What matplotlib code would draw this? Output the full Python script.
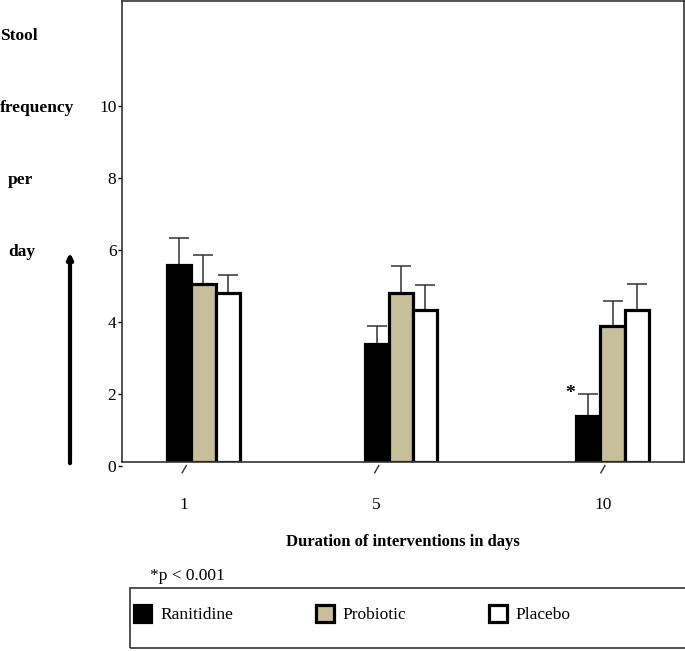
import matplotlib.pyplot as plt
import matplotlib.patches as mpatches
import matplotlib.transforms as mtransforms
import numpy as np

days = ["1", "5", "10"]
groups = ["Ranitidine", "Probiotic", "Placebo"]
ranitidine = [5.47, 3.29, 1.29]
ranitidine_err = [0.75, 0.49, 0.60]
probiotic = [4.94, 4.69, 3.78]
probiotic_err = [0.81, 0.75, 0.69]
placebo = [4.69, 4.22, 4.22]
placebo_err = [0.50, 0.70, 0.72]
yticks = [0, 2, 4, 6, 8, 10]
ylabel_words = ["Stool", "frequency", "per", "day"]

plt.rcParams['font.family'] = ['Liberation Serif', 'DejaVu Serif']

fig = plt.figure(figsize=(6.85, 6.51), dpi=100)
ax = fig.add_axes([122/685, 1-462/651, 562/685, 461/651])

group_x = np.array([0.0, 0.965, 2.0])
w = 0.118
colors = ["black", "#c6bf99", "white"]
vals = [ranitidine, probiotic, placebo]
errs = [ranitidine_err, probiotic_err, placebo_err]

for i in range(3):
    xs = group_x + (i - 1) * w
    ax.errorbar(xs, vals[i], yerr=[np.zeros(3), errs[i]], fmt="none",
                ecolor="#333333", elinewidth=1.1, capsize=7, capthick=1.1, zorder=1)
    ax.bar(xs, vals[i], width=w, color=colors[i], edgecolor="black",
           linewidth=2.3, zorder=2)

# significance star
ax.text(group_x[2] - w - w/2 - 0.005, ranitidine[2] + ranitidine_err[2] + 0.02, "*",
        ha="right", va="center", fontsize=14, fontweight="bold")

ax.set_xlim(-0.3985, 2.3496)
ax.set_ylim(0, 12.8)
ax.set_yticks(yticks)
ax.set_yticklabels([str(t) for t in yticks], fontsize=12.5)
ax.tick_params(axis="y", direction="out", length=3, width=1, pad=1)
shift = mtransforms.ScaledTranslation(0, -4/100, fig.dpi_scale_trans)
for t in ax.yaxis.get_major_ticks():
    t.label1.set_transform(t.label1.get_transform() + shift)
    t.tick1line.set_transform(t.tick1line.get_transform() + shift)

tick_x = group_x - w * np.array([0.8, 1.0, 0.4])
ax.set_xticks(tick_x)
ax.set_xticklabels(days, fontsize=12.5)
ax.tick_params(axis="x", length=0, pad=25)
for x in tick_x:
    ax.plot([x + 0.01, x - 0.01], [-0.1, -0.3], color="#333333", lw=1, clip_on=False)

for s in ax.spines.values():
    s.set_linewidth(1.2)
    s.set_color("#333333")

ax.set_xlabel("Duration of interventions in days", fontsize=12, fontweight="bold",
              labelpad=15)

# y label words, stacked at the left
blend = mtransforms.blended_transform_factory(fig.transFigure, ax.transData)
word_y = [12, 10, 8, 6]
word_x = [0, 0, 8, 8]
for wd, yy, xx in zip(ylabel_words, word_y, word_x):
    fig.text(xx/685, yy - 0.16, wd, transform=blend, ha="left", va="center",
             fontsize=12.5, fontweight="bold")

# arrow
fig.add_artist(mpatches.FancyArrowPatch((70/685, 1-466/651), (70/685, 1-250/651),
                                        transform=fig.transFigure, arrowstyle="-|>",
                                        mutation_scale=8, lw=3, color="black"))

fig.text(150/685, 1-576/651, "*p < 0.001", fontsize=12.5, va="center", ha="left")

# legend box
fig.add_artist(mpatches.Rectangle((130/685, 1-648/651), 560/685, 60/651,
                                  transform=fig.transFigure, facecolor="none",
                                  edgecolor="#333333", linewidth=1.2))
handles = [mpatches.Patch(facecolor=c, edgecolor="black", linewidth=2.3) for c in colors]
leg = fig.legend(handles, groups, loc="center left",
                 bbox_to_anchor=(134/685, 1-614/651),
                 ncol=3, fontsize=12.5, frameon=False,
                 handlelength=1.0, handleheight=1.1, handletextpad=0.5,
                 columnspacing=4.8, borderaxespad=0, borderpad=0)

fig.savefig("out.png", dpi=100)
